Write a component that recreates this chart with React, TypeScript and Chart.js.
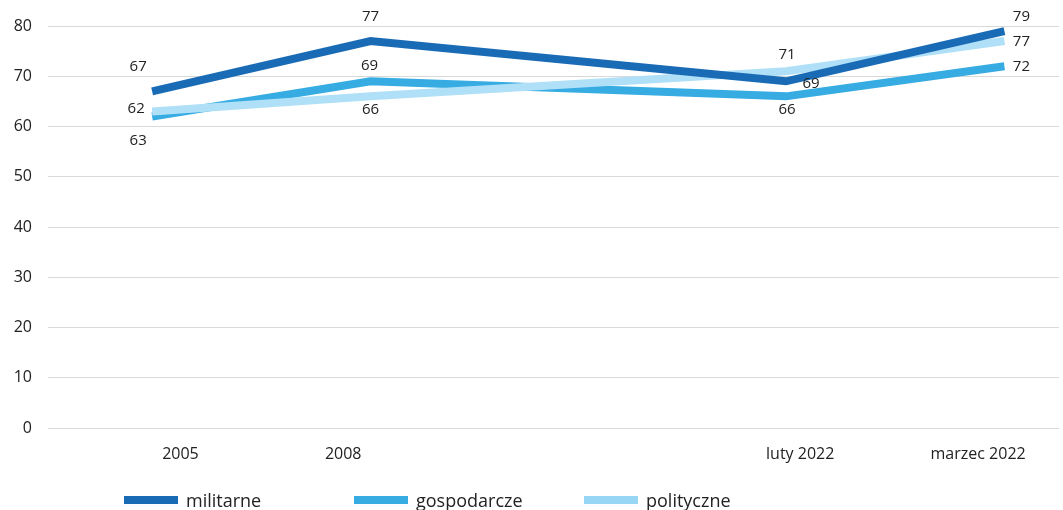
import React, { useEffect, useRef } from "react";
import { Chart, registerables } from "chart.js";

Chart.register(...registerables);

// ---- data ----
const categories = ["2005", "2008", "luty 2022", "marzec 2022"];
// position of each survey along the horizontal axis (0–100 scale)
const pointPositions = [10.3, 31.9, 73.0, 94.6];
// position of each category label along the same axis
const labelPositions = [13.1, 29.2, 74.4, 92.0];

const seriesNames = ["militarne", "gospodarcze", "polityczne"];
const militarne = [67, 77, 69, 79];
const gospodarcze = [62, 69, 66, 72];
const polityczne = [63, 66, 71, 77];

const yTicks = [0, 10, 20, 30, 40, 50, 60, 70, 80];

// ---- styles ----
const FONT = "'Open Sans', 'Noto Sans', sans-serif";
const TEXT = "#222222";
const colors = ["#1a6bb5", "#36ace2", "#b0e0f7"];
const legendColors = ["#1a6bb5", "#36ace2", "#97d6f4"];
const drawOrder = [0, 2, 1]; // lower = drawn on top

// value-label offsets (px) relative to each point, per series
const labelOffsets: number[][][] = [
  [[-14, -25], [0, -24], [25, 2], [17, -14]],
  [[-16, -8], [-1, -16], [1, 13], [17, 1]],
  [[-14, 29], [0, 13], [1, -16], [17, 1]],
];

const valueLabels = {
  id: "valueLabels",
  afterDatasetsDraw(chart: any) {
    const ctx = chart.ctx;
    ctx.save();
    ctx.font = `15px ${FONT}`;
    ctx.fillStyle = TEXT;
    ctx.textAlign = "center";
    ctx.textBaseline = "middle";
    chart.data.datasets.forEach((ds: any, di: number) => {
      const meta = chart.getDatasetMeta(di);
      meta.data.forEach((pt: any, i: number) => {
        const [dx, dy] = labelOffsets[di][i];
        ctx.fillText(String(ds.data[i].y), pt.x + dx, pt.y + dy);
      });
    });
    ctx.restore();
  },
};

export default function App() {
  const canvasRef = useRef<HTMLCanvasElement | null>(null);

  useEffect(() => {
    if (!canvasRef.current) return;
    const series = [militarne, gospodarcze, polityczne];
    const chart = new Chart(canvasRef.current, {
      type: "line",
      data: {
        datasets: series.map((vals, si) => ({
          label: seriesNames[si],
          data: vals.map((v, i) => ({ x: pointPositions[i], y: v })),
          borderColor: colors[si],
          backgroundColor: colors[si],
          borderWidth: 8,
          pointRadius: 0,
          tension: 0,
          order: drawOrder[si],
        })),
      },
      options: {
        responsive: false,
        animation: false,
        layout: { padding: { top: 26, right: 4, bottom: 42, left: 0 } },
        plugins: {
          legend: { display: false },
          tooltip: { enabled: false },
        },
        scales: {
          x: {
            type: "linear",
            min: 0,
            max: 100,
            grid: { display: false, drawTicks: false },
            border: { display: false },
            afterBuildTicks: (scale: any) => {
              scale.ticks = labelPositions.map((v) => ({ value: v }));
            },
            afterFit: (scale: any) => {
              scale.height = 40;
            },
            ticks: {
              autoSkip: false,
              maxRotation: 0,
              padding: 17,
              color: TEXT,
              font: { family: FONT, size: 16 },
              callback: (_v: any, i: number) => categories[i],
            },
          },
          y: {
            min: 0,
            max: 80,
            afterBuildTicks: (scale: any) => {
              scale.ticks = yTicks.map((v) => ({ value: v }));
            },
            afterFit: (scale: any) => {
              scale.width = 48;
            },
            grid: { color: "#d9d9d9", lineWidth: 1, drawTicks: false },
            border: { display: false },
            ticks: {
              padding: 16,
              color: TEXT,
              font: { family: FONT, size: 16 },
            },
          },
        },
      },
      plugins: [valueLabels],
    });
    return () => chart.destroy();
  }, []);

  return (
    <div
      style={{
        position: "absolute",
        left: 0,
        top: 0,
        width: 1063,
        height: 510,
        overflow: "hidden",
        background: "#ffffff",
      }}
    >
      <canvas ref={canvasRef} width={1063} height={510} style={{ display: "block" }} />
      <div
        style={{
          position: "absolute",
          left: 124,
          top: 489,
          height: 22,
          display: "flex",
          fontFamily: FONT,
          fontSize: 18,
          color: TEXT,
          lineHeight: "22px",
        }}
      >
        {seriesNames.map((name, i) => (
          <div key={name} style={{ width: 230, display: "flex", alignItems: "center" }}>
            <span
              style={{
                display: "inline-block",
                width: 54,
                height: 8,
                background: legendColors[i],
                marginRight: 8,
              }}
            />
            <span>{name}</span>
          </div>
        ))}
      </div>
    </div>
  );
}
